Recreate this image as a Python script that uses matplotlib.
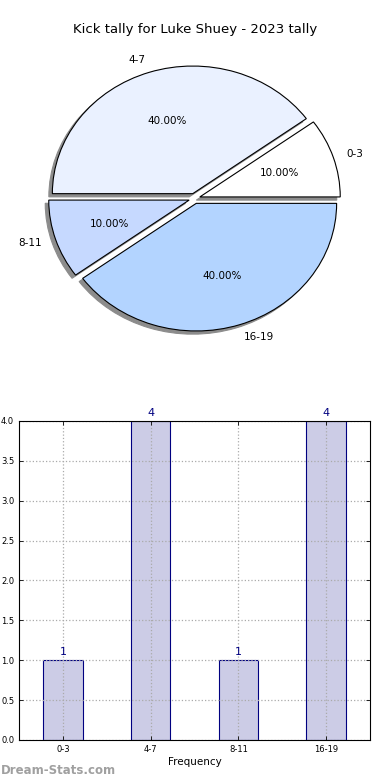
import numpy as np
import matplotlib.pyplot as plt

labels = ["0-3", "4-7", "8-11", "16-19"]
counts = [1, 4, 1, 4]
pie_colors = ["#ffffff", "#eaf1ff", "#c6d9ff", "#b3d4ff"]
title = "Kick tally for Luke Shuey - 2023 tally"


def main():
    fig = plt.figure(figsize=(3.9, 7.8), dpi=100)

    # pie, top half (elliptical like the old site charts)
    ax_pie = fig.add_axes([0.0487, 0.541, 0.9, 0.409])
    wedges, texts, autotexts = ax_pie.pie(
        counts,
        labels=labels,
        colors=pie_colors,
        explode=[0.04] * len(counts),
        autopct="%1.2f%%",
        shadow={"ox": -0.018, "oy": -0.018, "facecolor": "#8c8c8c",
                "edgecolor": "#8c8c8c", "alpha": 1.0},
        startangle=0,
        wedgeprops={"edgecolor": "black", "linewidth": 0.8},
        textprops={"fontsize": 7.5},
    )
    ax_pie.set_aspect("auto")
    ax_pie.set_xlim(-1.25, 1.25)
    ax_pie.set_ylim(-1.25, 1.25)
    fig.text(0.5, 0.962, title, ha="center", va="center", fontsize=9.5)

    # bar chart, bottom half
    ax = fig.add_axes([0.0487, 0.0513, 0.9, 0.409])
    x = np.arange(len(labels))
    ax.bar(x, counts, width=0.45, color="#ccccE6", edgecolor="#000080", linewidth=0.8)
    for xi, c in zip(x, counts):
        ax.text(xi, c + 0.04, str(c), ha="center", va="bottom",
                fontsize=8, color="#000080")
    ax.set_xlim(-0.5, len(labels) - 0.5)
    ax.set_ylim(0, 4)
    ax.set_yticks(np.arange(0, 4.01, 0.5))
    ax.set_yticklabels([f"{v:.1f}" for v in np.arange(0, 4.01, 0.5)])
    ax.set_xticks(x)
    ax.set_xticklabels(labels)
    ax.tick_params(direction="in", top=True, right=True, labelsize=6, length=3, width=0.6)
    ax.grid(True, linestyle=":", color="#aaaaaa", linewidth=0.9)
    ax.set_axisbelow(False)
    ax.set_xlabel("Frequency", fontsize=7.5, labelpad=2)
    for s in ax.spines.values():
        s.set_linewidth(0.8)
        s.set_zorder(5)

    fig.text(0.001, 0.012, "Dream-Stats.com", ha="left", va="center",
             fontsize=8.5, color="#a0a0a0", fontweight="bold")

    fig.savefig("out.png", dpi=100)


if __name__ == "__main__":
    main()
